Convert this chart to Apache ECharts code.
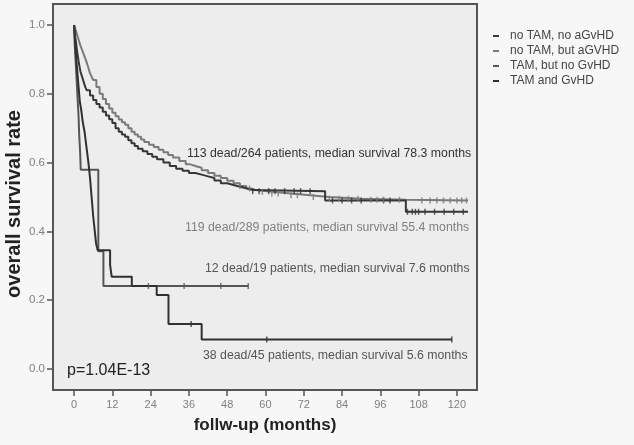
<!DOCTYPE html>
<html>
<head>
<meta charset="utf-8">
<script src="https://cdn.jsdelivr.net/npm/echarts@6/dist/echarts.min.js"></script>
<style>
html,body{margin:0;padding:0;background:#f7f7f7;}
#c{width:634px;height:445px;}
</style>
</head>
<body>
<div id="c"></div>
<script>
// ---- data ----
const seriesNames = ['no TAM, no aGvHD', 'no TAM, but aGVHD', 'TAM, but no GvHD', 'TAM and GvHD'];
const xTicks = [0, 12, 24, 36, 48, 60, 72, 84, 96, 108, 120];
const yTicks = [0, 0.2, 0.4, 0.6, 0.8, 1.0];

// Kaplan-Meier curves: [month, survival]
const noTamNoGvhd = [[0,1],[0.3,0.97],[0.6,0.95],[1,0.92],[1.5,0.89],[2,0.865],[2.5,0.85],[3,0.835],[3.5,0.82],[4,0.81],[5,0.795],[6,0.782],[7,0.77],[8,0.76],[9,0.748],[10,0.737],[11,0.726],[12,0.715],[13,0.70],[14,0.69],[15,0.682],[16,0.675],[17,0.665],[18,0.656],[19,0.648],[20,0.64],[21.5,0.633],[23,0.625],[24.5,0.617],[26,0.61],[28,0.60],[30,0.59],[32,0.582],[34,0.576],[36,0.57],[38,0.565],[40,0.56],[42,0.555],[44,0.548],[46,0.54],[48,0.535],[50,0.53],[52,0.525],[54,0.52],[56,0.517],[78.7,0.49],[104,0.457],[123.5,0.457]];
const noTamGvhd = [[0,1],[0.5,0.985],[1,0.97],[1.5,0.955],[2,0.94],[2.5,0.928],[3,0.915],[3.5,0.903],[4,0.89],[4.5,0.875],[5,0.86],[5.5,0.85],[6,0.84],[7,0.82],[8,0.80],[9,0.785],[10,0.77],[11,0.757],[12,0.745],[13,0.735],[14,0.725],[15,0.717],[16,0.71],[17,0.70],[18,0.69],[19,0.682],[20,0.675],[21,0.667],[22,0.66],[23.5,0.652],[25,0.645],[26.5,0.637],[28,0.63],[29.5,0.622],[31,0.615],[33,0.605],[35,0.595],[36.5,0.59],[38,0.585],[40,0.578],[42,0.57],[44,0.562],[46,0.555],[48,0.547],[50,0.54],[52,0.532],[54,0.525],[55.5,0.52],[57,0.515],[62,0.51],[68,0.505],[74,0.50],[80,0.495],[90,0.492],[104,0.49],[123.5,0.49]];
const tamNoGvhd = [[0,1],[0.2,0.947],[0.5,0.895],[0.8,0.842],[1.1,0.789],[1.4,0.737],[1.6,0.684],[1.9,0.632],[2.1,0.579],[7.6,0.342],[9.2,0.241],[54.6,0.241]];
const tamGvhd = [[0,1],[0.3,0.956],[0.6,0.911],[1.0,0.867],[1.4,0.822],[1.8,0.778],[2.2,0.756],[2.7,0.72],[3.3,0.689],[3.9,0.644],[4.5,0.6],[5.0,0.556],[5.4,0.511],[5.6,0.489],[6.0,0.444],[6.5,0.4],[6.9,0.365],[7.4,0.345],[11.3,0.302],[11.8,0.268],[18.1,0.241],[25.9,0.215],[29.6,0.131],[40,0.086],[118.4,0.086]];

// censoring times (months)
const censorNoTamNoGvhd = [56,58,61,63,66,69,71,74,81,84,87,90,97,99,104.5,106,107,108,110,113,116,119,122];
const censorNoTamGvhd = [52,55,59,62,64,68,70,75,80,83,86,89,93,95,97,102,109,111.6,113.7,115.8,117.9,120,121.5,123];
const censorTamNoGvhd = [23.3,34.5,46,54.6];
const censorTamGvhd = [36.7,60.4,118.4];

const annotations = [
  '113 dead/264 patients, median survival 78.3 months',
  '119 dead/289 patients, median survival 55.4 months',
  '12 dead/19 patients, median survival 7.6 months',
  '38 dead/45 patients, median survival 5.6 months'
];
const pText = 'p=1.04E-13';

// ---- chart ----
function survAt(curve, t){
  let v = curve[0][1];
  for (const p of curve){ if (p[0] <= t) v = p[1]; }
  return v;
}
function censorPts(curve, times){ return times.map(t => [t, survAt(curve, t)]); }

const colors = ['#363636', '#7a7a7a', '#555555', '#303030'];
const curves = [noTamNoGvhd, noTamGvhd, tamNoGvhd, tamGvhd];
const censors = [censorNoTamNoGvhd, censorNoTamGvhd, censorTamNoGvhd, censorTamGvhd];
const FONT = 'Liberation Sans, Arial, sans-serif';

const series = [];
curves.forEach((c, i) => {
  series.push({
    name: seriesNames[i], type: 'line', step: 'end', data: c,
    showSymbol: false, symbol: 'none',
    lineStyle: { color: colors[i], width: 2 }, itemStyle: { color: colors[i] },
    z: 3 + (i === 0 ? 1 : 0), animation: false
  });
});
curves.forEach((c, i) => {
  series.push({
    name: seriesNames[i] + ' censored', type: 'scatter', data: censorPts(c, censors[i]),
    symbol: 'rect', symbolSize: [1.5, 6], itemStyle: { color: colors[i] },
    z: 5, animation: false, silent: true
  });
});

const chart = echarts.init(document.getElementById('c'), null, { renderer: 'canvas' });
chart.setOption({
  backgroundColor: '#f7f7f7',
  animation: false,
  textStyle: { fontFamily: FONT },
  grid: { left: 53, right: 157, top: 4, bottom: 55, containLabel: false, outerBoundsMode: 'none', show: true, backgroundColor: '#ededed', borderColor: '#555', borderWidth: 2 },
  legend: {
    data: seriesNames, orient: 'vertical', left: 488, top: 25,
    icon: 'rect', itemWidth: 6, itemHeight: 2, itemGap: 3,
    textStyle: { fontFamily: FONT, fontSize: 12, color: '#444', padding: [0, 0, 0, 6] },
    inactiveColor: '#ccc'
  },
  xAxis: {
    type: 'value', min: -6.6, max: 126.3,
    name: 'follw-up (months)', nameLocation: 'middle', nameGap: 27,
    nameTextStyle: { fontFamily: FONT, fontSize: 17, fontWeight: 'bold', color: '#222' },
    axisLine: { show: false, onZero: false },
    axisTick: { show: true, customValues: xTicks, length: 6, lineStyle: { color: '#555', width: 1.5 } },
    axisLabel: { customValues: xTicks, margin: 9, fontSize: 11, color: '#808080', fontFamily: FONT },
    splitLine: { show: false }
  },
  yAxis: {
    type: 'value', min: -0.061, max: 1.061,
    name: 'overall survival rate', nameLocation: 'middle', nameGap: 29, nameMoveOverlap: false,
    nameTextStyle: { fontFamily: FONT, fontSize: 20, fontWeight: 'bold', color: '#222', padding: [0, 14, 0, 0] },
    axisLine: { show: false, onZero: false },
    axisTick: { show: true, customValues: yTicks, length: 6, lineStyle: { color: '#555', width: 1.5 } },
    axisLabel: { customValues: yTicks, margin: 8, fontSize: 11.5, color: '#808080', fontFamily: FONT, formatter: v => v.toFixed(1) },
    splitLine: { show: false }
  },
  graphic: [
    { type: 'text', left: 187, top: 148, style: { text: annotations[0], font: '12.3px ' + FONT, fill: '#333' } },
    { type: 'text', left: 185, top: 222, style: { text: annotations[1], font: '12.3px ' + FONT, fill: '#808080' } },
    { type: 'text', left: 205, top: 263, style: { text: annotations[2], font: '12.3px ' + FONT, fill: '#555' } },
    { type: 'text', left: 203, top: 350, style: { text: annotations[3], font: '12.3px ' + FONT, fill: '#555' } },
    { type: 'text', left: 67, top: 363, style: { text: pText, font: '16px ' + FONT, fill: '#222' } }
  ],
  series: series
});
</script>
</body>
</html>
